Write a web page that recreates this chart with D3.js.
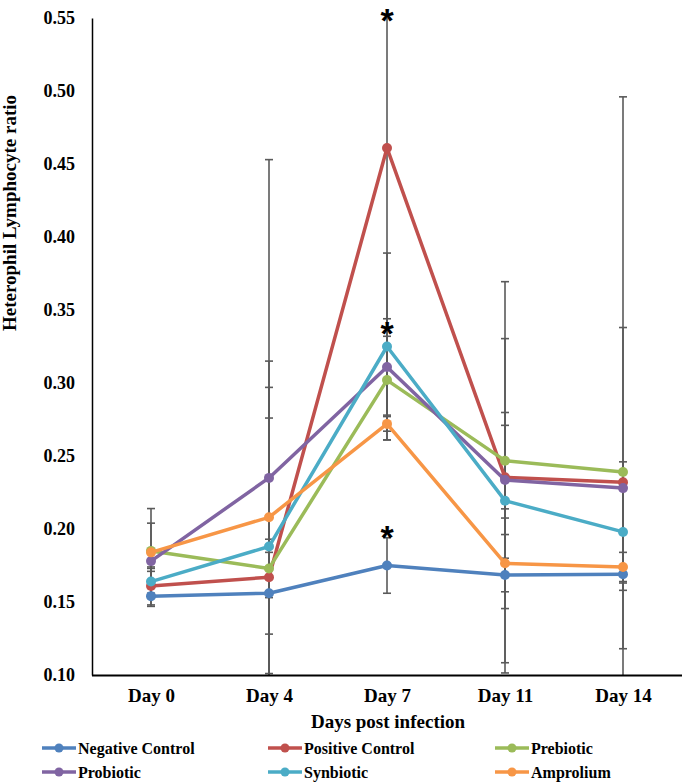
<!DOCTYPE html>
<html>
<head>
<meta charset="utf-8">
<script src="https://cdn.jsdelivr.net/npm/d3@7"></script>
<style>
  html, body { margin: 0; padding: 0; background: #fff; }
  svg { display: block; }
  text { font-family: "Liberation Serif", "Times New Roman", serif; font-weight: bold; fill: #000; }
</style>
</head>
<body>
<svg id="chart" width="685" height="783"></svg>
<script>
// ---- data ----
const days = ["Day 0", "Day 4", "Day 7", "Day 11", "Day 14"];
const seriesNames = ["Negative Control", "Positive Control", "Prebiotic", "Probiotic", "Synbiotic", "Amprolium"];
const seriesColors = ["#4F81BD", "#C0504D", "#9BBB59", "#8064A2", "#4BACC6", "#F79646"];

const negativeControl = [0.154, 0.156, 0.175, 0.1685, 0.169];
const positiveControl = [0.161, 0.167, 0.461, 0.2354, 0.232];
const prebiotic       = [0.185, 0.173, 0.302, 0.2468, 0.239];
const probiotic       = [0.178, 0.235, 0.311, 0.2336, 0.228];
const synbiotic       = [0.164, 0.188, 0.325, 0.2194, 0.198];
const amprolium       = [0.184, 0.208, 0.272, 0.1765, 0.174];

const negativeControlErr = [0.007, 0.028, 0.019, 0.0115, 0.006];
const positiveControlErr = [0.013, 0.109, 0.200, 0.134, 0.264];
const prebioticErr       = [0.029, 0.020, 0.030, 0.033, 0.007];
const probioticErr       = [0.007, 0.218, 0.033, 0.0374, 0.110];
const synbioticErr       = [0.009, 0.109, 0.064, 0.111, 0.040];
const amproliumErr       = [0.020, 0.107, 0.005, 0.031, 0.010];

const yTicks = [0.10, 0.15, 0.20, 0.25, 0.30, 0.35, 0.40, 0.45, 0.50, 0.55];

const starDays = ["Day 7", "Day 7", "Day 7"];
const starValues = [0.552, 0.338, 0.198];

const xTitle = "Days post infection";
const yTitle = "Heterophil Lymphocyte ratio";

// ---- build ----
(function () {
const values = [negativeControl, positiveControl, prebiotic, probiotic, synbiotic, amprolium];
const errors = [negativeControlErr, positiveControlErr, prebioticErr, probioticErr, synbioticErr, amproliumErr];
const series = seriesNames.map((name, i) => ({
  name, color: seriesColors[i],
  points: days.map((d, j) => ({ day: d, v: values[i][j], e: errors[i][j] }))
}));

const svg = d3.select("#chart");
const mLeft = 92, mRight = 682, mTop = 18, mBottom = 675;

const x = d3.scalePoint().domain(days).range([mLeft, mRight]).padding(0.5);
const y = d3.scaleLinear().domain([0.10, 0.55]).range([mBottom, mTop]);
const yMin = 0.10, yMax = 0.55;

// error bars
const eb = svg.append("g").attr("class", "errorbars");
const capW = 4, ebColor = "#5a5a5a";
series.forEach(s => {
  s.points.forEach(p => {
    const lo = Math.max(yMin, p.v - p.e), hi = Math.min(yMax, p.v + p.e);
    const cx = x(p.day);
    eb.append("line").attr("x1", cx).attr("x2", cx).attr("y1", y(lo)).attr("y2", y(hi))
      .attr("stroke", ebColor).attr("stroke-width", 1.6);
    if (p.v + p.e <= yMax) eb.append("line").attr("x1", cx - capW).attr("x2", cx + capW)
      .attr("y1", y(p.v + p.e)).attr("y2", y(p.v + p.e)).attr("stroke", ebColor).attr("stroke-width", 1.6);
    if (p.v - p.e >= yMin) eb.append("line").attr("x1", cx - capW).attr("x2", cx + capW)
      .attr("y1", y(p.v - p.e)).attr("y2", y(p.v - p.e)).attr("stroke", ebColor).attr("stroke-width", 1.6);
  });
});

// lines and markers
const line = d3.line().x(p => x(p.day)).y(p => y(p.v));
series.forEach(s => {
  const g = svg.append("g");
  g.append("path").attr("d", line(s.points)).attr("fill", "none")
    .attr("stroke", s.color).attr("stroke-width", 3.5).attr("stroke-linejoin", "round");
  g.selectAll("circle").data(s.points).join("circle")
    .attr("cx", p => x(p.day)).attr("cy", p => y(p.v)).attr("r", 5).attr("fill", s.color);
});

// stars
svg.append("g").selectAll("text").data(starDays.map((d, i) => ({ d, v: starValues[i] }))).join("text")
  .attr("x", p => x(p.d)).attr("y", p => y(p.v) + 17)
  .attr("text-anchor", "middle").style("font-size", "34px").style("font-weight", "bold")
  .style("font-family", "Liberation Sans")
  .text("*");

// axes
const yAxis = svg.append("g").attr("transform", `translate(${mLeft},0)`)
  .call(d3.axisLeft(y).tickValues(yTicks).tickFormat(d3.format(".2f")).tickSize(0).tickPadding(17));
yAxis.select(".domain").attr("stroke", "#000").attr("stroke-width", 1.5);
yAxis.selectAll("text").style("font-size", "18px").style("font-family", "Liberation Serif").style("font-weight", "bold");

const xAxis = svg.append("g").attr("transform", `translate(0,${mBottom})`)
  .call(d3.axisBottom(x).tickSize(0).tickPadding(14));
xAxis.select(".domain").attr("d", `M${mLeft},0.5H${mRight}`).attr("stroke", "#000").attr("stroke-width", 2);
xAxis.selectAll("text").style("font-size", "19px").style("font-family", "Liberation Serif").style("font-weight", "bold");

// titles
svg.append("text").attr("x", (mLeft + mRight) / 2 + 1).attr("y", 728).attr("text-anchor", "middle")
  .style("font-size", "19px").text(xTitle);
svg.append("text").attr("transform", "translate(16,213) rotate(-90)").attr("text-anchor", "middle")
  .style("font-size", "19px").text(yTitle);

// legend
const legCols = [42, 268, 495], legRows = [748, 772];
series.forEach((s, i) => {
  const lx = legCols[i % 3], ly = legRows[Math.floor(i / 3)];
  const g = svg.append("g");
  g.append("line").attr("x1", lx).attr("x2", lx + 34).attr("y1", ly).attr("y2", ly)
    .attr("stroke", s.color).attr("stroke-width", 3.5);
  g.append("circle").attr("cx", lx + 17).attr("cy", ly).attr("r", 4.5).attr("fill", s.color);
  g.append("text").attr("x", lx + 36).attr("y", ly + 5.5).style("font-size", "16px").text(s.name);
});
})();
</script>
</body>
</html>
